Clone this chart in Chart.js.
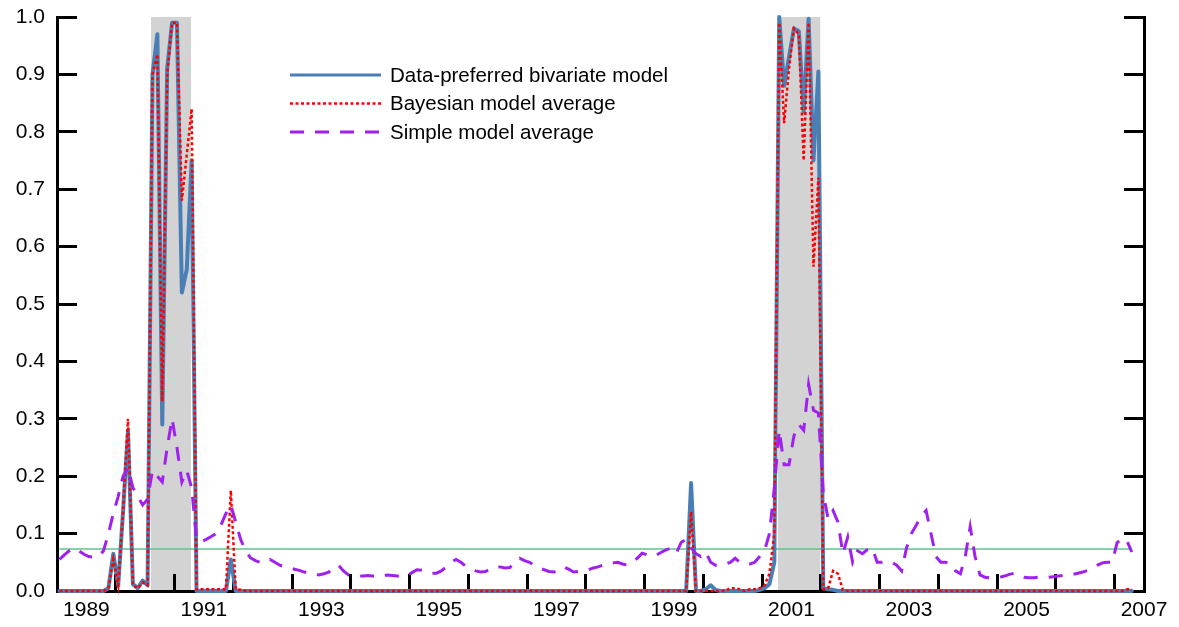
<!DOCTYPE html>
<html><head><meta charset="utf-8">
<script src="https://cdn.jsdelivr.net/npm/chart.js@4.4.1/dist/chart.umd.min.js"></script>
<style>html,body{margin:0;padding:0;background:#fff;}#wrap{width:1179px;height:627px;}</style>
</head><body><div id="wrap"><canvas id="c" width="1179" height="627"></canvas></div>
<script>
// Monthly observations, January 1989 onward
const startYear = 1989;
const seriesNames = ['Data-preferred bivariate model', 'Bayesian model average', 'Simple model average'];

const bivariateValues = [
  0,0,0,0,0,0,0,0,0,0,0.005,0.065,
  0.01,0.14,0.28,0.012,0.005,0.018,0.01,0.9,0.97,0.29,0.91,0.99,
  0.99,0.52,0.56,0.75,0,0,0,0,0,0,0,0.055,
  0,0,0,0,0,0,0,0,0,0,0,0,
  0,0,0,0,0,0,0,0,0,0,0,0,
  0,0,0,0,0,0,0,0,0,0,0,0,
  0,0,0,0,0,0,0,0,0,0,0,0,
  0,0,0,0,0,0,0,0,0,0,0,0,
  0,0,0,0,0,0,0,0,0,0,0,0,
  0,0,0,0,0,0,0,0,0,0,0,0,
  0,0,0,0,0,0,0,0,0,0.188,0,0,
  0.003,0.01,0.002,0,0,0,0,0,0,0,0,0.002,
  0.005,0.012,0.05,1.0,0.88,0.93,0.98,0.975,0.835,0.997,0.75,0.905,
  0.005,0.003,0.002,0,0,0,0,0,0,0,0,0,
  0,0,0,0,0,0,0,0,0,0,0,0,
  0,0,0,0,0,0,0,0,0,0,0,0,
  0,0,0,0,0,0,0,0,0,0,0,0,
  0,0,0,0,0,0,0,0,0,0,0,0,
  0,0,0,0
];

const bayesianValues = [
  0,0,0,0,0,0,0,0,0,0,0.005,0.055,
  0.01,0.14,0.30,0.01,0.005,0.015,0.01,0.9,0.935,0.33,0.9,0.99,
  0.99,0.68,0.76,0.84,0.003,0.003,0.003,0.003,0.003,0.003,0.003,0.175,
  0.003,0.002,0,0,0,0,0,0,0,0,0,0,
  0,0,0,0,0,0,0,0,0,0,0,0,
  0,0,0,0,0,0,0,0,0,0,0,0,
  0,0,0,0,0,0,0,0,0,0,0,0,
  0,0,0,0,0,0,0,0,0,0,0,0,
  0,0,0,0,0,0,0,0,0,0,0,0,
  0,0,0,0,0,0,0,0,0,0,0,0,
  0,0,0,0,0,0,0,0,0,0.138,0,0,
  0,0,0,0,0,0.005,0.005,0.003,0,0.003,0.003,0.005,
  0.01,0.03,0.1,0.99,0.815,0.91,0.98,0.97,0.75,0.99,0.565,0.72,
  0.003,0.005,0.035,0.03,0.002,0,0,0,0,0,0,0,
  0,0,0,0,0,0,0,0,0,0,0,0,
  0,0,0,0,0,0,0,0,0,0,0,0,
  0,0,0,0,0,0,0,0,0,0,0,0,
  0,0,0,0,0,0,0,0,0,0,0,0,
  0,0,0.003,0.003
];

const simpleValues = [
  0.055,0.063,0.07,0.075,0.07,0.064,0.06,0.059,0.06,0.07,0.1,0.135,
  0.165,0.2,0.215,0.18,0.165,0.15,0.16,0.21,0.2,0.19,0.25,0.3,
  0.25,0.19,0.21,0.18,0.09,0.086,0.09,0.095,0.1,0.115,0.135,0.15,
  0.12,0.09,0.07,0.058,0.053,0.05,0.05,0.055,0.05,0.045,0.042,0.04,
  0.038,0.036,0.033,0.031,0.03,0.028,0.03,0.033,0.04,0.045,0.035,0.028,
  0.027,0.026,0.026,0.027,0.026,0.025,0.026,0.028,0.027,0.026,0.025,0.026,
  0.032,0.037,0.036,0.033,0.031,0.031,0.035,0.042,0.05,0.055,0.05,0.043,
  0.038,0.035,0.033,0.034,0.038,0.042,0.042,0.04,0.041,0.05,0.057,0.053,
  0.05,0.045,0.04,0.037,0.034,0.033,0.037,0.042,0.038,0.033,0.034,0.036,
  0.037,0.04,0.042,0.045,0.048,0.049,0.05,0.047,0.045,0.05,0.057,0.066,
  0.063,0.06,0.063,0.068,0.072,0.075,0.066,0.085,0.09,0.075,0.065,0.06,
  0.068,0.05,0.045,0.045,0.047,0.05,0.057,0.05,0.047,0.047,0.05,0.06,
  0.07,0.1,0.18,0.28,0.22,0.22,0.27,0.29,0.28,0.36,0.315,0.31,
  0.17,0.125,0.14,0.12,0.065,0.094,0.05,0.07,0.065,0.072,0.075,0.05,
  0.05,0.052,0.05,0.045,0.035,0.075,0.1,0.115,0.13,0.14,0.1,0.06,
  0.05,0.05,0.048,0.035,0.03,0.06,0.112,0.06,0.028,0.024,0.023,0.024,
  0.024,0.026,0.029,0.031,0.028,0.024,0.023,0.023,0.024,0.024,0.024,0.025,
  0.026,0.027,0.028,0.029,0.031,0.033,0.036,0.04,0.045,0.049,0.05,0.05,
  0.084,0.092,0.088,0.068
];

const thresholdValue = 0.073;
const recessions = [[1990.6, 1991.28], [2001.27, 2001.99]];
const yearLabels = [1989, 1991, 1993, 1995, 1997, 1999, 2001, 2003, 2005, 2007];
const yearTickMarks = [1990,1991,1992,1993,1994,1995,1996,1997,1998,1999,2000,2001,2002,2003,2004,2005,2006,2007];
const yTickValues = [0, 0.1, 0.2, 0.3, 0.4, 0.5, 0.6, 0.7, 0.8, 0.9, 1.0];
const xMin = 1989, xMax = 2007.5;

const FONT = "'Liberation Sans', Arial, sans-serif";
const toPoints = vals => vals.map((v, i) => ({ x: startYear + (i + 0.5) / 12, y: v }));
const lastIdx = simpleValues.length - 1;
const thresholdPoints = [
  { x: startYear + 0.5 / 12, y: thresholdValue },
  { x: startYear + (lastIdx + 0.5) / 12, y: thresholdValue }
];

const bandPlugin = {
  id: 'bands',
  beforeDraw(chart) {
    const { ctx, chartArea: a, scales: { x } } = chart;
    ctx.save();
    ctx.fillStyle = '#d3d3d3';
    recessions.forEach(([s, e]) => {
      const x0 = x.getPixelForValue(s), x1 = x.getPixelForValue(e);
      ctx.fillRect(x0, a.top, x1 - x0, a.bottom - a.top);
    });
    ctx.restore();
  }
};

const legendPlugin = {
  id: 'customLegend',
  afterDraw(chart) {
    const ctx = chart.ctx;
    const items = [0, 1, 2].map(k => chart.data.datasets[k]);
    const rowsY = [75, 103.5, 132];
    ctx.save();
    items.forEach((ds, k) => {
      const y = rowsY[k];
      ctx.beginPath();
      ctx.strokeStyle = ds.borderColor;
      ctx.lineWidth = k === 0 ? 3 : ds.borderWidth;
      ctx.setLineDash(ds.borderDash || []);
      ctx.lineCap = 'butt';
      ctx.moveTo(290, y);
      ctx.lineTo(381, y);
      ctx.stroke();
      ctx.setLineDash([]);
      ctx.fillStyle = '#000';
      ctx.font = '20.5px ' + FONT;
      ctx.textBaseline = 'middle';
      ctx.textAlign = 'left';
      ctx.fillText(ds.label, 390, y + 1);
    });
    ctx.restore();
  }
};

const axisFont = { family: FONT, size: 21 };

new Chart(document.getElementById('c'), {
  type: 'line',
  data: {
    datasets: [
      { label: seriesNames[0], data: toPoints(bivariateValues), borderColor: '#4a7fb6', borderWidth: 4,
        pointRadius: 0, tension: 0, order: 3, borderJoinStyle: 'round', borderCapStyle: 'round', clip: false },
      { label: seriesNames[1], data: toPoints(bayesianValues), borderColor: '#ff0000', borderWidth: 2.5,
        borderDash: [3, 2.5], pointRadius: 0, tension: 0, order: 2, clip: false },
      { label: seriesNames[2], data: toPoints(simpleValues), borderColor: '#a020f0', borderWidth: 3,
        borderDash: [14, 11], pointRadius: 0, tension: 0, order: 1, clip: false },
      { label: 'threshold', data: thresholdPoints, borderColor: '#5cc48a', borderWidth: 1.5,
        pointRadius: 0, tension: 0, order: 4 }
    ]
  },
  options: {
    responsive: false,
    animation: false,
    devicePixelRatio: 1,
    layout: { padding: { top: 17, left: 0, right: 0, bottom: 0 } },
    plugins: { legend: { display: false }, tooltip: { enabled: false } },
    scales: {
      x: {
        type: 'linear', position: 'bottom', min: xMin, max: xMax, weight: 1,
        afterBuildTicks: s => { s.ticks = yearLabels.map(v => ({ value: v + 0.5 })); },
        afterFit: s => { s.height = 36; s.paddingLeft = 0; s.paddingRight = 0; },
        ticks: { autoSkip: false, maxRotation: 0, padding: 7, color: '#000', font: axisFont,
                 callback: v => String(Math.floor(v)) },
        grid: { display: false, drawTicks: false },
        border: { display: true, color: '#000', width: 3 }
      },
      xt: {
        type: 'linear', position: 'bottom', min: xMin, max: xMax, weight: 0, z: 1,
        afterBuildTicks: s => { s.ticks = yearTickMarks.map(v => ({ value: v })); },
        afterFit: s => { s.height = 0; s.paddingLeft = 0; s.paddingRight = 0; },
        ticks: { display: false },
        grid: { display: true, drawOnChartArea: false, drawTicks: true, tickLength: -17, color: '#000', lineWidth: 3 },
        border: { display: false }
      },
      y: {
        position: 'left', min: 0, max: 1,
        afterBuildTicks: s => { s.ticks = yTickValues.map(v => ({ value: v })); },
        afterFit: s => { s.width = 57; s.paddingTop = 0; s.paddingBottom = 0; },
        ticks: { padding: 32, color: '#000', font: axisFont, callback: v => Number(v).toFixed(1) },
        grid: { display: true, drawOnChartArea: false, drawTicks: true, tickLength: -20, color: '#000', lineWidth: 3 },
        border: { display: true, color: '#000', width: 3 }
      },
      y2: {
        position: 'right', min: 0, max: 1,
        afterBuildTicks: s => { s.ticks = yTickValues.map(v => ({ value: v })); },
        afterFit: s => { s.width = 35; s.paddingTop = 0; s.paddingBottom = 0; },
        ticks: { display: false },
        grid: { display: true, drawOnChartArea: false, drawTicks: true, tickLength: -20, color: '#000', lineWidth: 3 },
        border: { display: true, color: '#000', width: 3 }
      }
    }
  },
  plugins: [bandPlugin, legendPlugin]
});
</script></body></html>
